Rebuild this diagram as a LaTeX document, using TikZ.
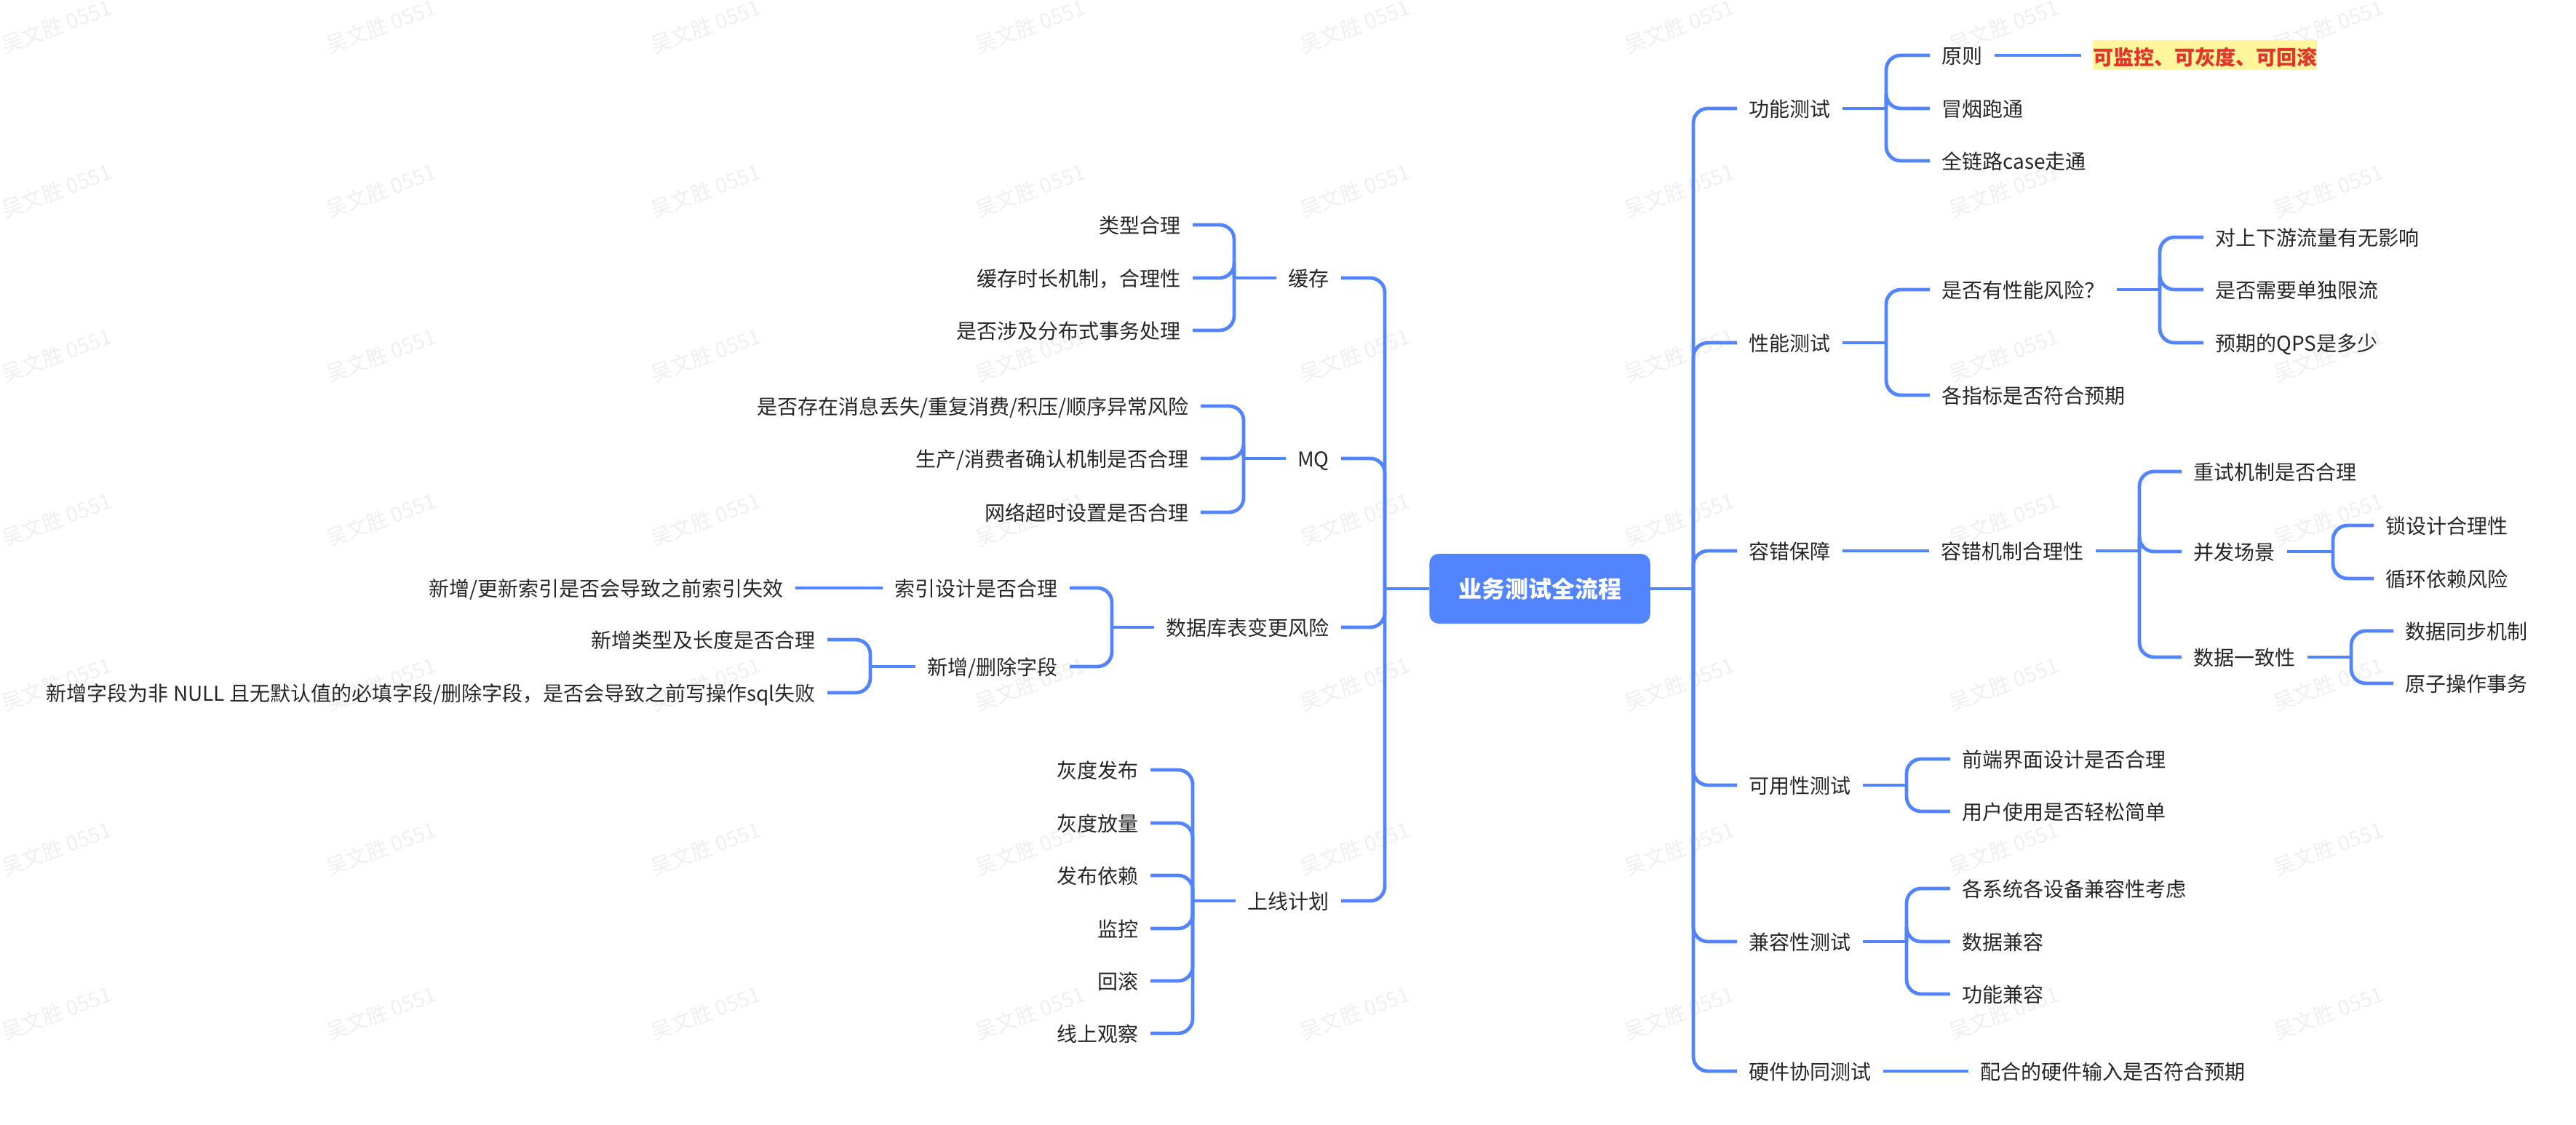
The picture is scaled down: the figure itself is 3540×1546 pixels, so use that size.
\documentclass[tikz,border=0pt]{standalone}
\usepackage{fontspec}
\setmainfont{Noto Sans CJK SC}

\definecolor{linkblue}{HTML}{5284FF}
\definecolor{inkgrey}{HTML}{262626}
\definecolor{wmgrey}{HTML}{EFEFEF}
\definecolor{noteyellow}{HTML}{FFF59A}
\definecolor{notered}{HTML}{E0362C}

\tikzset{
  item/.style={text=inkgrey, font=\fontsize{14pt}{16pt}\selectfont, inner xsep=8pt, inner ysep=0pt, text height=13pt, text depth=1.6pt},
  itemR/.style={item, anchor=west},
  itemL/.style={item, anchor=east},
  link/.style={draw=linkblue, line width=2.4pt, rounded corners=10pt},
  wmark/.style={text=wmgrey, font=\fontsize{14.5pt}{16pt}\selectfont, rotate=20, inner sep=0pt},
}

\begin{document}
\begin{tikzpicture}[x=0.5pt, y=-0.5pt]
\useasboundingbox (0,0) rectangle (3540,1546);

% watermark
\foreach \i in {0,...,7}
  \foreach \j in {0,...,6}
    \node[wmark] (wm\i\j) at ({78+446*\i},{36+226*\j}) {吴文胜 0551};

% nodes
\node[fill=linkblue, text=white, rounded corners=6.5pt, minimum width=151.75pt, minimum height=48pt, font=\fontsize{16pt}{18pt}\selectfont\bfseries] (root) at (2116,809) {业务测试全流程};

% right side
\node[itemR] (func) at (2387,149) {功能测试};
\node[itemR] (funcA) at (2652,76) {原则};
\node[itemR] (funcB) at (2652,149) {冒烟跑通};
\node[itemR] (funcC) at (2652,221) {全链路case走通};
\node[anchor=west, fill=noteyellow, text=notered, inner xsep=0pt, inner ysep=0pt, text height=17.25pt, text depth=3.25pt, font=\fontsize{14pt}{16pt}\selectfont\bfseries] (note) at (2876,76) {可监控、可灰度、可回滚};

\node[itemR] (perf) at (2387,471) {性能测试};
\node[itemR] (perfA) at (2652,398) {是否有性能风险？};
\node[itemR] (perfB) at (2652,543) {各指标是否符合预期};
\node[itemR] (riskA) at (3028,326) {对上下游流量有无影响};
\node[itemR] (riskB) at (3028,398) {是否需要单独限流};
\node[itemR] (riskC) at (3028,471) {预期的QPS是多少};

\node[itemR] (fault) at (2387,757) {容错保障};
\node[itemR] (faultA) at (2651,757) {容错机制合理性};
\node[itemR] (retry) at (2998,648) {重试机制是否合理};
\node[itemR] (conc) at (2998,758) {并发场景};
\node[itemR] (cons) at (2998,903) {数据一致性};
\node[itemR] (concA) at (3262,722) {锁设计合理性};
\node[itemR] (concB) at (3262,795) {循环依赖风险};
\node[itemR] (consA) at (3289,867) {数据同步机制};
\node[itemR] (consB) at (3289,939) {原子操作事务};

\node[itemR] (use) at (2387,1079) {可用性测试};
\node[itemR] (useA) at (2680,1043) {前端界面设计是否合理};
\node[itemR] (useB) at (2680,1115) {用户使用是否轻松简单};

\node[itemR] (comp) at (2387,1294) {兼容性测试};
\node[itemR] (compA) at (2680,1221) {各系统各设备兼容性考虑};
\node[itemR] (compB) at (2680,1294) {数据兼容};
\node[itemR] (compC) at (2680,1366) {功能兼容};

\node[itemR] (hard) at (2387,1472) {硬件协同测试};
\node[itemR] (hardA) at (2705,1472) {配合的硬件输入是否符合预期};

% left side
\node[itemL] (cache) at (1843,382) {缓存};
\node[itemL] (cacheA) at (1639,309) {类型合理};
\node[itemL] (cacheB) at (1639,382) {缓存时长机制，合理性};
\node[itemL] (cacheC) at (1639,454) {是否涉及分布式事务处理};

\node[itemL] (mq) at (1843,630) {MQ};
\node[itemL] (mqA) at (1650,558) {是否存在消息丢失/重复消费/积压/顺序异常风险};
\node[itemL] (mqB) at (1650,630) {生产/消费者确认机制是否合理};
\node[itemL] (mqC) at (1650,704) {网络超时设置是否合理};

\node[itemL] (db) at (1843,862) {数据库表变更风险};
\node[itemL] (dbA) at (1470,808) {索引设计是否合理};
\node[itemL] (dbB) at (1470,916) {新增/删除字段};
\node[itemL] (idx) at (1093,808) {新增/更新索引是否会导致之前索引失效};
\node[itemL] (colA) at (1137,879) {新增类型及长度是否合理};
\node[itemL] (colB) at (1137,952) {新增字段为非 NULL 且无默认值的必填字段/删除字段，是否会导致之前写操作sql失败};

\node[itemL] (plan) at (1843,1238) {上线计划};
\node[itemL] (planA) at (1581,1058) {灰度发布};
\node[itemL] (planB) at (1581,1131) {灰度放量};
\node[itemL] (planC) at (1581,1203) {发布依赖};
\node[itemL] (planD) at (1581,1276) {监控};
\node[itemL] (planE) at (1581,1348) {回滚};
\node[itemL] (planF) at (1581,1420) {线上观察};

% spines
\coordinate (RS) at (2327,809);
\coordinate (LS) at (1903,809);
\coordinate (funcS) at (2592,149);
\coordinate (perfS) at (2592,471);
\coordinate (riskS) at (2968,398);
\coordinate (faultS) at (2940,757);
\coordinate (concS) at (3206,758);
\coordinate (consS) at (3231,903);
\coordinate (useS) at (2620,1079);
\coordinate (compS) at (2620,1294);
\coordinate (cacheS) at (1696,382);
\coordinate (mqS) at (1709,630);
\coordinate (dbS) at (1528,862);
\coordinate (colS) at (1196,916);
\coordinate (planS) at (1639,1238);

% arrows
\draw[link] (root.east) -- (RS);
\draw[link] (root.west) -- (LS);
\foreach \c in {func,perf,fault,use,comp,hard}
  \draw[link] (\c.west) -| (RS);
\foreach \c in {cache,mq,db,plan}
  \draw[link] (\c.east) -| (LS);

\draw[link] (func.east) -- (funcS);
\foreach \c in {funcA,funcB,funcC}
  \draw[link] (\c.west) -| (funcS);
\draw[link, shorten >=8pt] (funcA.east) -- (note.west);

\draw[link] (perf.east) -- (perfS);
\foreach \c in {perfA,perfB}
  \draw[link] (\c.west) -| (perfS);
\draw[link] (perfA.east) -- (riskS);
\foreach \c in {riskA,riskB,riskC}
  \draw[link] (\c.west) -| (riskS);

\draw[link] (fault.east) -- (faultA.west);
\draw[link] (faultA.east) -- (faultS);
\foreach \c in {retry,conc,cons}
  \draw[link] (\c.west) -| (faultS);
\draw[link] (conc.east) -- (concS);
\foreach \c in {concA,concB}
  \draw[link] (\c.west) -| (concS);
\draw[link] (cons.east) -- (consS);
\foreach \c in {consA,consB}
  \draw[link] (\c.west) -| (consS);

\draw[link] (use.east) -- (useS);
\foreach \c in {useA,useB}
  \draw[link] (\c.west) -| (useS);
\draw[link] (comp.east) -- (compS);
\foreach \c in {compA,compB,compC}
  \draw[link] (\c.west) -| (compS);
\draw[link] (hard.east) -- (hardA.west);

\draw[link] (cache.west) -- (cacheS);
\foreach \c in {cacheA,cacheB,cacheC}
  \draw[link] (\c.east) -| (cacheS);
\draw[link] (mq.west) -- (mqS);
\foreach \c in {mqA,mqB,mqC}
  \draw[link] (\c.east) -| (mqS);
\draw[link] (db.west) -- (dbS);
\foreach \c in {dbA,dbB}
  \draw[link] (\c.east) -| (dbS);
\draw[link] (dbA.west) -- (idx.east);
\draw[link] (dbB.west) -- (colS);
\foreach \c in {colA,colB}
  \draw[link] (\c.east) -| (colS);
\draw[link] (plan.west) -- (planS);
\foreach \c in {planA,planB,planC,planD,planE,planF}
  \draw[link] (\c.east) -| (planS);

\end{tikzpicture}
\end{document}
